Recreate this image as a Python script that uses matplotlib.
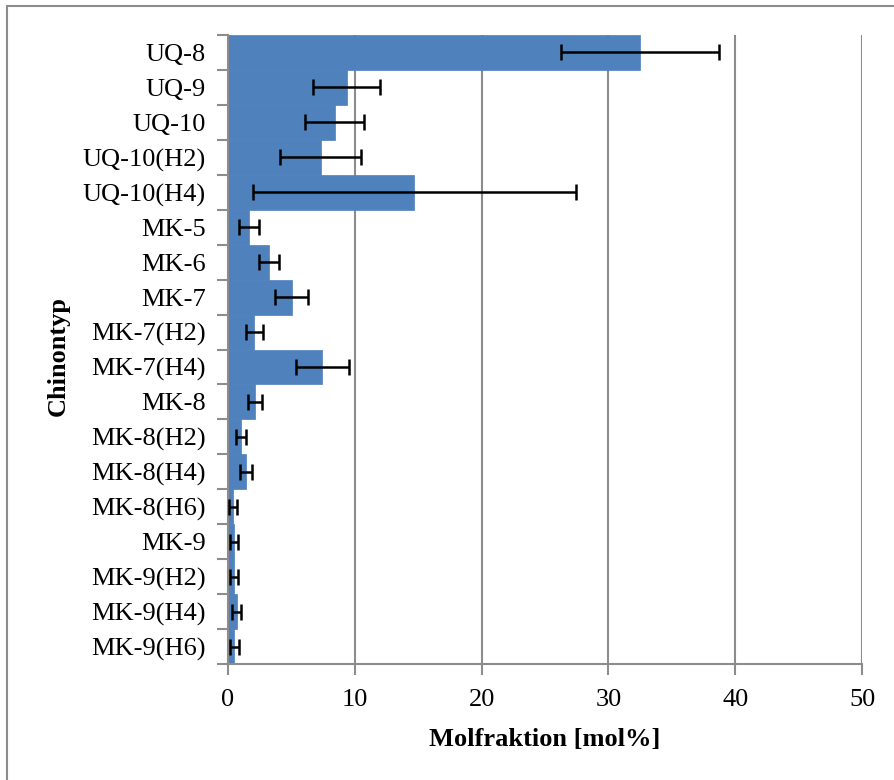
import matplotlib
matplotlib.use("Agg")
import matplotlib.pyplot as plt
from matplotlib.patches import Rectangle
import numpy as np

categories = ["UQ-8", "UQ-9", "UQ-10", "UQ-10(H2)", "UQ-10(H4)", "MK-5", "MK-6", "MK-7",
              "MK-7(H2)", "MK-7(H4)", "MK-8", "MK-8(H2)", "MK-8(H4)", "MK-8(H6)", "MK-9",
              "MK-9(H2)", "MK-9(H4)", "MK-9(H6)"]
values = [32.5, 9.35, 8.4, 7.3, 14.7, 1.68, 3.23, 5.02, 2.08, 7.44, 2.13, 1.0, 1.42, 0.40,
          0.48, 0.48, 0.68, 0.50]
errors = [6.2, 2.65, 2.3, 3.2, 12.75, 0.79, 0.79, 1.3, 0.66, 2.1, 0.57, 0.4, 0.47, 0.33,
          0.33, 0.33, 0.37, 0.33]
xticks = [0, 10, 20, 30, 40, 50]

plt.rcParams['font.family'] = ['Liberation Serif', 'DejaVu Serif']

fig = plt.figure(figsize=(8.94, 7.8), dpi=100)
ax = fig.add_axes([228/894, 1-664/780, (862-228)/894, (664-35)/780])

grey = '#8c8c8c'
y = np.arange(len(categories))
ax.barh(y, values, height=1.0, color='#4f81bd', edgecolor='#4f81bd', linewidth=0.5, zorder=2)
ax.errorbar(values, y, xerr=errors, fmt='none', ecolor='black', elinewidth=1.8,
            capsize=6, capthick=1.8, zorder=3)

ax.set_xlim(0, 50)
ax.set_ylim(len(categories)-0.5, -0.5)
ax.set_xticks(xticks)
ax.set_xticklabels([str(t) for t in xticks], fontsize=19)
ax.set_yticks(y)
ax.set_yticklabels(categories, fontsize=19)
ax.set_yticks(np.arange(len(categories)+1)-0.5, minor=True)
ax.tick_params(axis='y', which='major', length=0, pad=16)
ax.tick_params(axis='y', which='minor', length=8, color=grey, width=1.5, direction='out')
ax.tick_params(axis='x', which='major', length=8, color=grey, width=1.5, direction='out', pad=10)

ax.xaxis.grid(True, color=grey, linewidth=1.5, zorder=0)
ax.set_axisbelow(True)
for s in ['top', 'right']:
    ax.spines[s].set_visible(False)
for s in ['left', 'bottom']:
    ax.spines[s].set_color(grey)
    ax.spines[s].set_linewidth(1.5)

ax.set_xlabel('Molfraktion [mol%]', fontsize=19, fontweight='bold', labelpad=12)
ax.set_ylabel('Chinontyp', fontsize=19, fontweight='bold')
ax.yaxis.set_label_coords((70-228)/634, 0.49)

fig.patches.append(Rectangle((7/894, -0.1), 1.2, 1 - 6/780 + 0.1, transform=fig.transFigure,
                             fill=False, edgecolor=grey, linewidth=1.5))

fig.savefig('out.png', dpi=100)
